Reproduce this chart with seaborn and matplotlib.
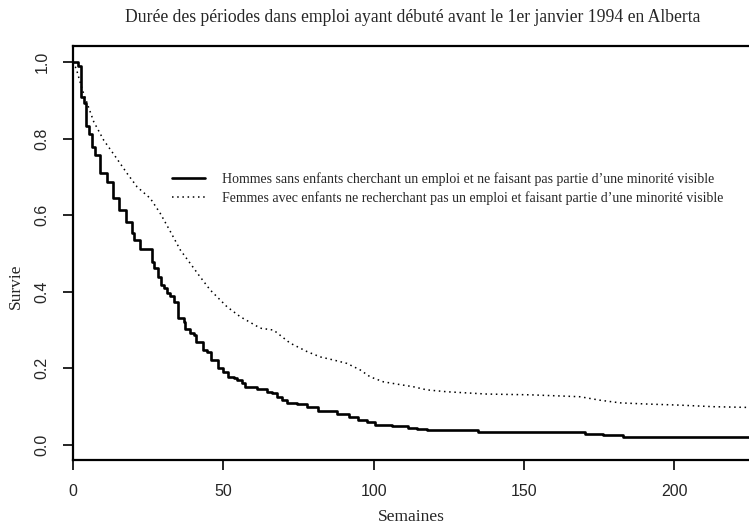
import numpy as np
import pandas as pd
import matplotlib
matplotlib.use("Agg")
import matplotlib.pyplot as plt
import seaborn as sns
from matplotlib.lines import Line2D

sns.set_theme(style="white")
plt.rcParams['font.family'] = ['Liberation Serif', 'DejaVu Serif']

# --- data ---
hommes_t = [0, 1.8, 2.6, 3.5, 4.2, 5.3, 6.2, 7.3, 9.0, 11.2, 13.3, 15.2, 17.7, 19.6, 20.4,
            22.2, 26.3, 26.8, 28.1, 29.4, 30.1, 31.3, 32.4, 33.5, 34.8, 36.8, 37.3, 39.0,
            40.1, 41.0, 43.2, 44.5, 46.0, 48.1, 49.9, 51.7, 53.4, 54.7, 56.2, 57.3, 61.2,
            64.5, 66.1, 67.8, 69.5, 71.1, 74.4, 77.8, 81.6, 87.9, 91.9, 94.9, 97.7, 100.5,
            106.0, 111.5, 114.3, 117.6, 134.8, 170.3, 176.3, 183.0, 225.0]
hommes_s = [1.0, 0.99, 0.908, 0.893, 0.834, 0.811, 0.779, 0.757, 0.709, 0.686, 0.644, 0.614,
            0.583, 0.553, 0.535, 0.512, 0.479, 0.461, 0.438, 0.418, 0.409, 0.396, 0.389,
            0.374, 0.331, 0.322, 0.302, 0.293, 0.287, 0.270, 0.248, 0.244, 0.222, 0.200,
            0.191, 0.178, 0.174, 0.170, 0.163, 0.152, 0.145, 0.139, 0.137, 0.125, 0.118,
            0.110, 0.108, 0.100, 0.089, 0.081, 0.074, 0.065, 0.061, 0.052, 0.050, 0.044,
            0.041, 0.039, 0.035, 0.029, 0.026, 0.022, 0.022]

femmes_t = [0, 1.1, 3.0, 4.9, 6.9, 10.2, 14.1, 18.0, 21.3, 25.7, 29.0, 32.4, 35.7, 39.0,
            41.8, 45.6, 51.2, 55.6, 62.3, 66.7, 72.2, 77.8, 82.2, 86.6, 91.1, 95.5, 98.8,
            103.2, 107.7, 113.2, 117.6, 124.3, 137.6, 152.0, 168.6, 175.2, 181.9, 190.7,
            202.0, 212.9, 225.0]
femmes_s = [1.0, 0.982, 0.93, 0.888, 0.844, 0.796, 0.753, 0.709, 0.674, 0.644, 0.605, 0.557,
            0.509, 0.474, 0.444, 0.405, 0.361, 0.335, 0.305, 0.300, 0.266, 0.244, 0.230,
            0.222, 0.213, 0.196, 0.178, 0.165, 0.159, 0.152, 0.144, 0.139, 0.133, 0.131,
            0.126, 0.117, 0.110, 0.107, 0.104, 0.100, 0.098]

series_labels = [
    "Hommes sans enfants cherchant un emploi et ne faisant pas partie d\u2019une minorité visible",
    "Femmes avec enfants ne recherchant pas un emploi et faisant partie d\u2019une minorité visible",
]
title = "Durée des périodes dans emploi ayant débuté avant le 1er janvier 1994 en Alberta"
x_label = "Semaines"
y_label = "Survie"
x_ticks = [0, 50, 100, 150, 200]
y_ticks = [0.0, 0.2, 0.4, 0.6, 0.8, 1.0]

W, H = 749, 529
DOT = (0, (1, 2.4))
fig = plt.figure(figsize=(W / 100, H / 100), dpi=100)
fig.patch.set_facecolor("white")
ax = fig.add_axes([73 / W, (H - 460) / H, (W - 73) / W, (460 - 46) / H])
ax.set_facecolor("white")

df_h = pd.DataFrame({"t": hommes_t, "s": hommes_s})
df_f = pd.DataFrame({"t": femmes_t, "s": femmes_s})
sns.lineplot(data=df_h, x="t", y="s", ax=ax, color="black", linewidth=1.9,
             drawstyle="steps-post", estimator=None, sort=False)
sns.lineplot(data=df_f, x="t", y="s", ax=ax, color="black", linewidth=1.1,
             linestyle=DOT, estimator=None, sort=False)

ax.set_xlim(0, 224.8)
ax.set_ylim(-0.0392, 1.0418)
ax.set_xticks(x_ticks)
ax.set_yticks(y_ticks)
ax.set_xticklabels([str(v) for v in x_ticks], fontfamily="Liberation Sans", fontsize=11.5)
ax.set_yticklabels([f"{v:.1f}" for v in y_ticks], fontfamily="Liberation Sans", fontsize=11.5,
                   rotation=90, va="center")
ax.tick_params(axis="both", direction="out", length=7, width=1.2, color="black",
               bottom=True, left=True)
ax.tick_params(axis="x", pad=10)
ax.tick_params(axis="y", pad=10)

for side in ["left", "bottom", "top"]:
    ax.spines[side].set_visible(True)
    ax.spines[side].set_color("black")
    ax.spines[side].set_linewidth(1.6)
ax.spines["right"].set_visible(False)

ax.set_xlabel(x_label, fontsize=12.5)
ax.set_ylabel(y_label, fontsize=12.5)
ax.xaxis.set_label_coords(0.5, -0.118)
ax.yaxis.set_label_coords(-0.072, 0.42)

fig.text(413 / W, 1 - 18 / H, title, ha="center", va="center", fontsize=12.7)

handles = [Line2D([0], [0], color="black", linewidth=1.9),
           Line2D([0], [0], color="black", linewidth=1.1, linestyle=DOT)]
ax.legend(handles, series_labels, loc="upper left", bbox_to_anchor=(172 / W, 1 - 172 / H),
          bbox_transform=fig.transFigure, frameon=False, fontsize=10.0, handlelength=2.4,
          handletextpad=1.2, labelspacing=0.4, borderpad=0, borderaxespad=0)

fig.savefig("out.png", dpi=100, facecolor="white")
